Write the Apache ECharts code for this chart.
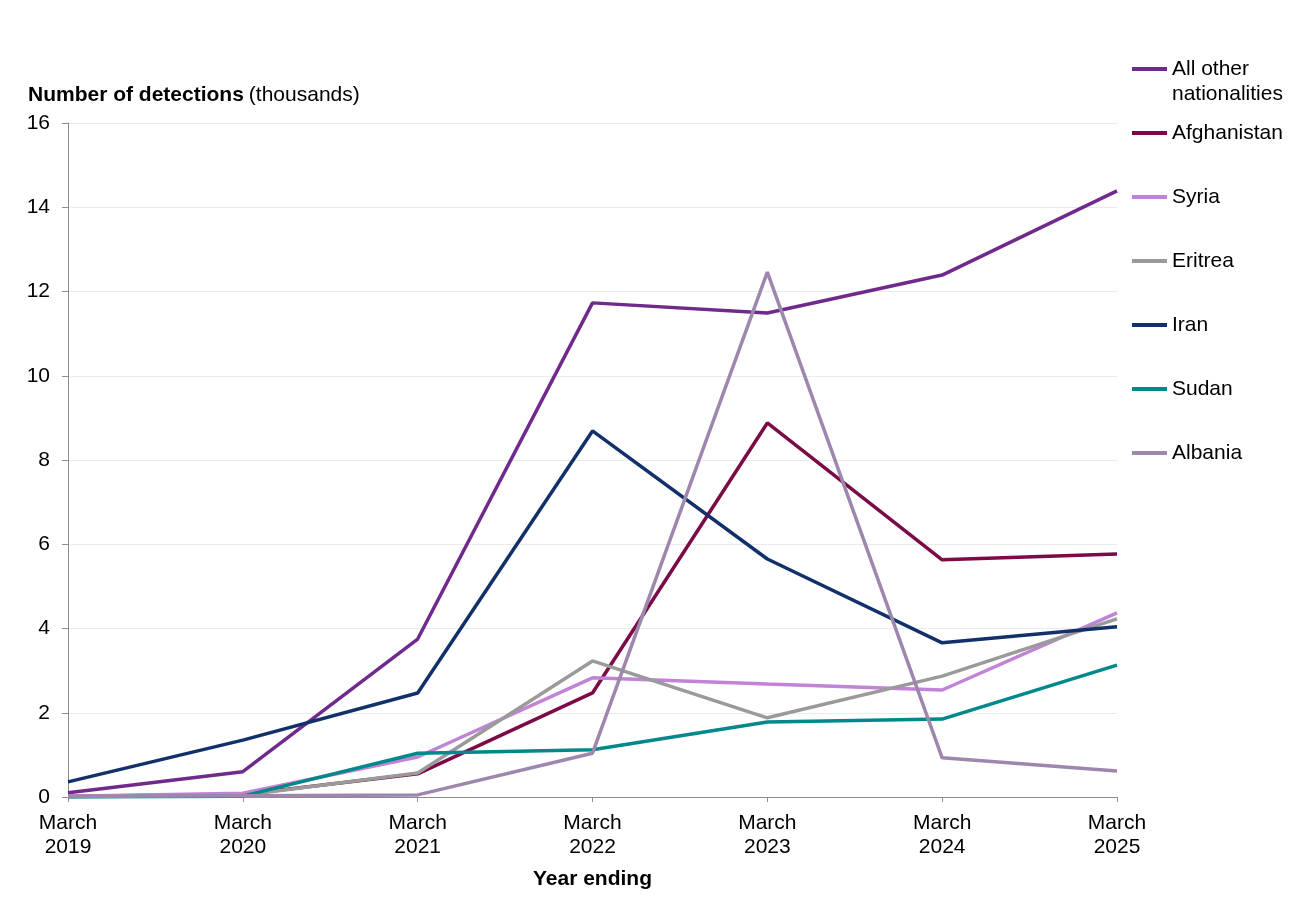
<!DOCTYPE html>
<html><head><meta charset="utf-8">
<script src="https://cdn.jsdelivr.net/npm/echarts@6/dist/echarts.min.js"></script>
<style>html,body{margin:0;padding:0;background:#fff}#c{width:1314px;height:918px}</style>
</head><body><div id="c"></div>
<script>
const categories = ['March\n2019','March\n2020','March\n2021','March\n2022','March\n2023','March\n2024','March\n2025'];
const allOther   = [0.10, 0.60, 3.75, 11.73, 11.49, 12.39, 14.39];
const afghanistan= [0.02, 0.06, 0.55, 2.47, 8.88, 5.63, 5.77];
const syria      = [0.02, 0.09, 0.95, 2.83, 2.68, 2.54, 4.37];
const eritrea    = [0.01, 0.04, 0.57, 3.23, 1.88, 2.87, 4.23];
const iran       = [0.36, 1.35, 2.47, 8.69, 5.65, 3.66, 4.04];
const sudan      = [0.00, 0.02, 1.04, 1.12, 1.78, 1.85, 3.13];
const albania    = [0.01, 0.03, 0.05, 1.04, 12.46, 0.93, 0.62];
const yTicks = [0,2,4,6,8,10,12,14,16];

const seriesDefs = [
  {name:'All other nationalities', data:allOther, color:'#702a8c'},
  {name:'Afghanistan', data:afghanistan, color:'#7b0a46'},
  {name:'Syria', data:syria, color:'#c183d6'},
  {name:'Eritrea', data:eritrea, color:'#9a9a9a'},
  {name:'Iran', data:iran, color:'#12306a'},
  {name:'Sudan', data:sudan, color:'#00888a'},
  {name:'Albania', data:albania, color:'#9d87ad'}
];
const legendCenters = [69,133,197,261,325,389,453];
const font = 'Liberation Sans, Arial, sans-serif';
const FS = 21;

const chart = echarts.init(document.getElementById('c'));
chart.setOption({
  animation:false,
  textStyle:{fontFamily:font},
  title:{
    left:28, top:85, padding:0,
    text:'{b|Number of detections} {n|(thousands)}',
    textStyle:{fontWeight:'normal',rich:{
      b:{fontFamily:font,fontSize:FS,fontWeight:'bold',color:'#000'},
      n:{fontFamily:font,fontSize:FS,fontWeight:'normal',color:'#000'}
    }}
  },
  grid:{left:68,right:197,top:123,bottom:121,containLabel:false},
  xAxis:{
    type:'category', data:categories, boundaryGap:false,
    name:'Year ending', nameLocation:'middle', nameGap:72,
    nameTextStyle:{fontFamily:font,fontSize:FS,fontWeight:'bold',color:'#000'},
    axisLine:{lineStyle:{color:'#8c8c8c',width:1}},
    axisTick:{show:true,alignWithLabel:true,length:5,lineStyle:{color:'#8c8c8c'}},
    axisLabel:{fontFamily:font,fontSize:FS,color:'#000',lineHeight:24,margin:14}
  },
  yAxis:{
    type:'value', min:0, max:16, interval:2,
    axisLine:{show:true,lineStyle:{color:'#8c8c8c',width:1}},
    axisTick:{show:true,length:6,lineStyle:{color:'#8c8c8c'}},
    axisLabel:{fontFamily:font,fontSize:FS,color:'#000',margin:18},
    splitLine:{lineStyle:{color:'#ebebeb',width:1}}
  },
  legend: seriesDefs.map((s,i)=>({
    data:[s.name], orient:'vertical', left:1132, padding:0,
    top: i===0 ? legendCenters[i] - 37.5 : legendCenters[i] - 12.5,
    itemWidth:35, itemHeight:4, itemGap:0,
    icon:'rect', selectedMode:false,
    formatter: i===0 ? '\nAll other\nnationalities' : '{name}',
    textStyle:{fontFamily:font,fontSize:FS,color:'#000',lineHeight:25}
  })),
  series: seriesDefs.map((s,i)=>({
    name:s.name, type:'line', data:s.data, symbol:'none',
    lineStyle:{color:s.color,width:3.5}, itemStyle:{color:s.color},
    z: 2 + i
  }))
});
</script></body></html>
